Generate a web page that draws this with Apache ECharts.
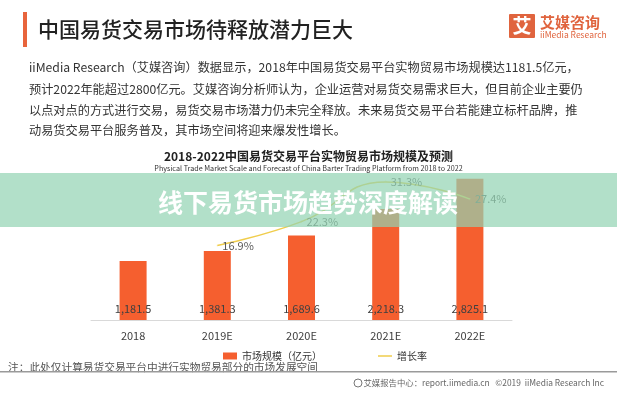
<!DOCTYPE html>
<html>
<head>
<meta charset="utf-8">
<script src="https://cdn.jsdelivr.net/npm/echarts@6/dist/echarts.min.js"></script>
<style>
  html, body { margin: 0; padding: 0; background: #fff; }
  #main { width: 617px; height: 400px; }
</style>
</head>
<body>
<div id="main"></div>
<script>
// 数据
var years = ['2018', '2019E', '2020E', '2021E', '2022E'];
var marketSize = [1181.5, 1381.3, 1689.6, 2218.3, 2825.1];   // 亿元
var growthRate = ['-', 16.9, 22.3, 31.3, 27.4];             // %
var paraLines = [
  'iiMedia Research（艾媒咨询）数据显示，2018年中国易货交易平台实物贸易市场规模达1181.5亿元，',
  '预计2022年能超过2800亿元。艾媒咨询分析师认为，企业运营对易货交易需求巨大，但目前企业主要仍',
  '以点对点的方式进行交易，易货交易市场潜力仍未完全释放。未来易货交易平台若能建立标杆品牌，推',
  '动易货交易平台服务普及，其市场空间将迎来爆发性增长。'
];

var font = '"Noto Sans CJK SC", "Noto Sans", sans-serif';
var myChart = echarts.init(document.getElementById('main'));

var graphics = [
  // 顶部标题
  { type: 'rect', shape: { x: 23, y: 12, width: 4, height: 35 }, style: { fill: '#e8643c' } },
  { type: 'text', x: 38, y: 29, style: { text: '中国易货交易市场待释放潜力巨大', font: '500 21px ' + font, fill: '#222', textVerticalAlign: 'middle' } },
  // logo
  { type: 'rect', shape: { x: 509, y: 14, width: 26, height: 24, r: 1 }, style: { fill: '#e0643e' } },
  { type: 'text', x: 522, y: 26, style: { text: '艾', font: 'bold 19px ' + font, fill: '#fff', textAlign: 'center', textVerticalAlign: 'middle' } },
  { type: 'text', x: 540, y: 22, style: { text: '艾媒咨询', font: 'bold 15px ' + font, fill: '#e0643e', textVerticalAlign: 'middle' } },
  { type: 'text', x: 540, y: 35, style: { text: 'iiMedia Research', font: '8.5px ' + font, fill: '#e0643e', textVerticalAlign: 'middle' } },
  // 脚注
  { type: 'text', x: 8, y: 367, style: { text: '注：此处仅计算易货交易平台中进行实物贸易部分的市场发展空间', font: '10.7px ' + font, fill: '#555', textVerticalAlign: 'middle' } },
  { type: 'rect', shape: { x: 0, y: 371, width: 617, height: 1.5 }, style: { fill: '#9a9a9a' } },
  { type: 'circle', shape: { cx: 358, cy: 383, r: 4 }, style: { fill: 'none', stroke: '#777', lineWidth: 1 } },
  { type: 'text', x: 604, y: 383, style: { text: '艾媒报告中心：report.iimedia.cn   ©2019  iiMedia Research Inc', font: '8.4px ' + font, fill: '#666', textAlign: 'right', textVerticalAlign: 'middle' } },
  // 覆盖横幅
  { type: 'rect', z: 100, shape: { x: 0, y: 173, width: 617, height: 54 }, style: { fill: 'rgba(146,211,178,0.7)' } },
  { type: 'text', z: 101, x: 308, y: 202, style: { text: '线下易货市场趋势深度解读', font: 'bold 25px ' + font, fill: '#fff', textAlign: 'center', textVerticalAlign: 'middle' } }
];
var lineY = [67, 89, 110, 130];
paraLines.forEach(function (t, i) {
  graphics.push({ type: 'text', x: 29, y: lineY[i], style: { text: t, font: '12.2px ' + font, fill: '#333', textVerticalAlign: 'middle' } });
});

var option = {
  animation: false,
  textStyle: { fontFamily: font },
  title: {
    text: '2018-2022中国易货交易平台实物贸易市场规模及预测',
    subtext: 'Physical Trade Market Scale and Forecast of China Barter Trading Platform from 2018 to 2022',
    left: 'center',
    top: 145,
    itemGap: 3,
    textStyle: { fontSize: 12, fontWeight: 'bold', color: '#222' },
    subtextStyle: { fontSize: 7.2, color: '#333' }
  },
  legend: {
    top: 346,
    left: 218,
    itemWidth: 14,
    itemHeight: 7,
    itemGap: 56,
    textStyle: { fontSize: 10, color: '#333' },
    data: [
      { name: '市场规模（亿元）', icon: 'rect' },
      // 细线图例：角上两个极小三角撑开包围盒
      { name: '增长率', icon: 'path://M0,0L0.1,0L0,0.1Z M14,7L13.9,7L14,6.9Z M0,2.7L14,2.7L14,4.3L0,4.3Z' }
    ]
  },
  grid: { left: 91, right: 105, top: 170, bottom: 80 },
  xAxis: {
    type: 'category',
    data: years,
    axisLine: { lineStyle: { color: '#d9d9d9' } },
    axisTick: { show: false },
    axisLabel: { color: '#404040', fontSize: 11, margin: 10 }
  },
  yAxis: [
    { type: 'value', min: 0, max: 3000, show: false },
    { type: 'value', min: 0, max: 34, show: false }
  ],
  series: [
    {
      name: '市场规模（亿元）',
      type: 'bar',
      data: marketSize,
      barWidth: 27,
      itemStyle: { color: '#f55f2f' },
      label: {
        show: true,
        position: 'insideBottom',
        distance: 6,
        color: '#404040',
        fontSize: 11,
        formatter: function (p) { return p.value.toLocaleString('en-US', { minimumFractionDigits: 1 }); }
      }
    },
    {
      name: '增长率',
      type: 'line',
      yAxisIndex: 1,
      data: growthRate,
      smooth: true,
      showSymbol: true,
      symbolSize: 0.1,
      lineStyle: { color: '#f0cd4c', width: 1.5 },
      itemStyle: { color: '#f0cd4c' },
      label: {
        show: true,
        position: 'right',
        distance: 4,
        color: '#595959',
        fontSize: 11,
        formatter: '{c}%'
      }
    }
  ],
  graphic: graphics
};

myChart.setOption(option);
</script>
</body>
</html>
